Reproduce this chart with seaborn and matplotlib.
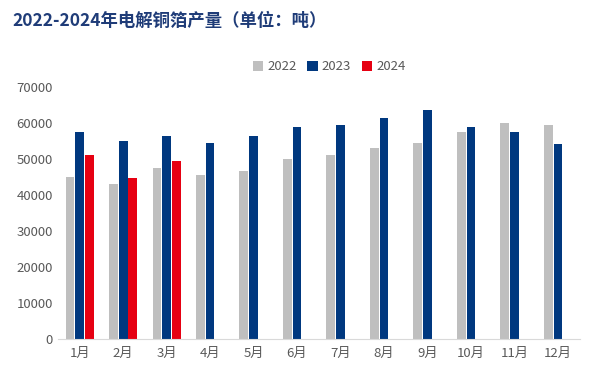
import numpy as np
import pandas as pd
import matplotlib
matplotlib.use('Agg')
import matplotlib.pyplot as plt
import seaborn as sns

meses = ['1月', '2月', '3月', '4月', '5月', '6月', '7月', '8月', '9月', '10月', '11月', '12月']
anos = ['2022', '2023', '2024']
v2022 = [44900, 43100, 47400, 45700, 46800, 50100, 51000, 53200, 54600, 57600, 59900, 59600]
v2023 = [57400, 55100, 56300, 54600, 56500, 58800, 59600, 61500, 63500, 59000, 57600, 54300]
v2024 = [51000, 44600, 49600] + [np.nan] * 9
cores = ['#bfbfbf', '#00387f', '#e60012']

df = pd.DataFrame({
    'mes': meses * 3,
    'ano': ['2022'] * 12 + ['2023'] * 12 + ['2024'] * 12,
    'valor': v2022 + v2023 + v2024,
})

sns.set_style('white')
plt.rcParams['font.family'] = ['Noto Sans CJK SC', 'DejaVu Sans']

fig = plt.figure(figsize=(5.97, 3.82), dpi=100)
ax = fig.add_axes([0.097, 0.1126, 0.874, 0.6594])

sns.barplot(data=df, x='mes', y='valor', hue='ano', hue_order=anos, order=meses,
            palette=cores, width=0.67, gap=0.1, saturation=1, errorbar=None,
            linewidth=0, ax=ax)

ax.set_ylim(0, 70000)
ax.set_yticks(range(0, 70001, 10000))
ax.set_xlim(-0.5, 11.5)
ax.set_xlabel('')
ax.set_ylabel('')
for s in ['top', 'right', 'left']:
    ax.spines[s].set_visible(False)
ax.spines['bottom'].set_color('#d9d9d9')
ax.tick_params(axis='both', length=0, colors='#595959', labelsize=9.5)
ax.tick_params(axis='x', pad=6)

ax.legend(loc='center', bbox_to_anchor=(0.52, 1.08), ncol=3, frameon=False,
          handlelength=0.8, handleheight=0.8, handletextpad=0.3, columnspacing=0.8,
          fontsize=9.5, labelcolor='#595959')

fig.text(0.02, 0.945, '2022-2024年电解铜箔产量（单位：吨）', fontsize=12.5,
         fontweight='bold', color='#1f3c78', va='center')

fig.savefig('out.png', dpi=100)
